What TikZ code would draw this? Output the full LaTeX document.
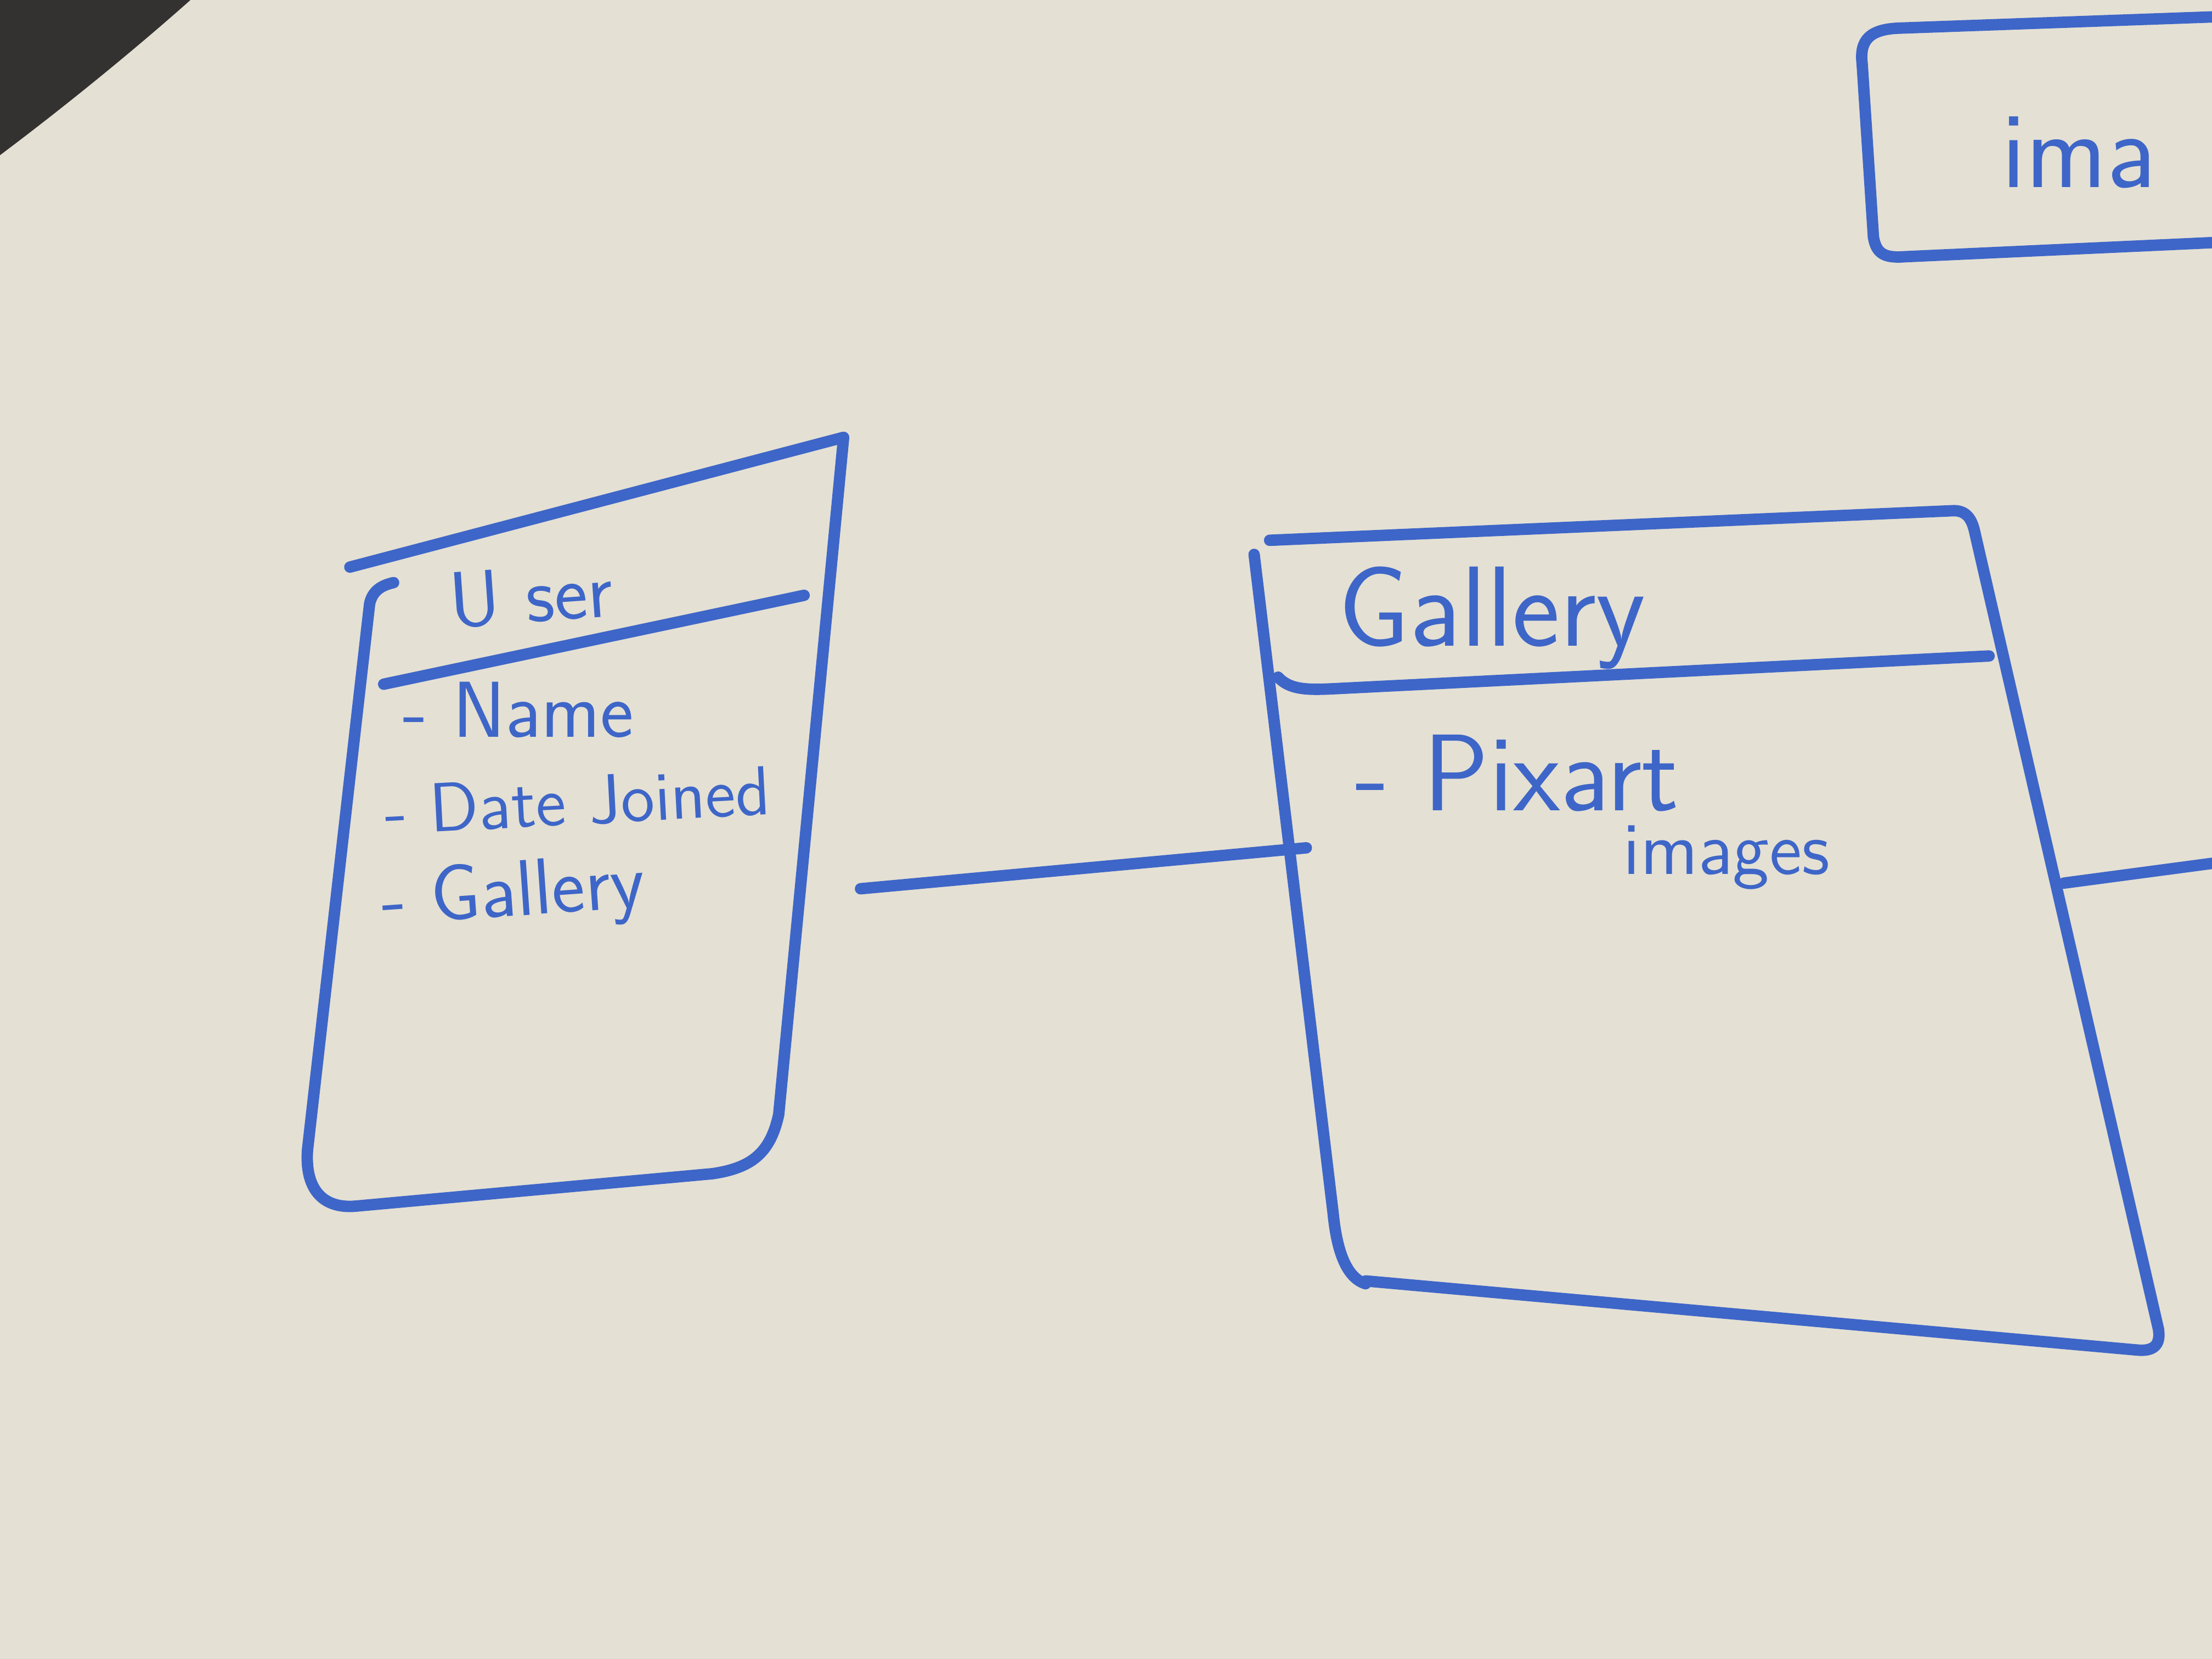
\documentclass[tikz,border=0pt]{standalone}
\usepackage{tikz}

\definecolor{board}{RGB}{228,224,212}
\definecolor{cornerdark}{RGB}{52,50,48}
\definecolor{marker}{RGB}{62,102,200}

\begin{document}
\begin{tikzpicture}[x=0.01cm,y=-0.01cm,
    pen/.style={draw=marker,line width=2.3pt,line cap=round,line join=round},
    word/.style={text=marker,font=\sffamily,inner sep=0pt,anchor=west}]
    \useasboundingbox (0,0) rectangle (1568,1176);
    % board and the dark corner
    \fill [board] (0,0) rectangle (1568,1176);
    \fill [cornerdark] (0,0) -- (135,0) .. controls (90,40) and (40,80) .. (0,110) -- cycle;

    % User box
    \draw [pen] (248,402) -- (598,310) -- (552,790)
        .. controls (546,818) and (532,828) .. (505,832) -- (252,855)
        .. controls (228,857) and (216,842) .. (218,815) -- (262,428)
        .. controls (264,419) and (270,415) .. (279,413);
    \draw [pen] (272,485) -- (570,422);
    \node [word,rotate=4,font=\sffamily\fontsize{16}{18}\selectfont] (user-title) at (318,426) {U ser};
    \node [word,font=\sffamily\fontsize{16}{18}\selectfont] (user-name) at (285,503) {- Name};
    \node [word,rotate=3,font=\sffamily\fontsize{14}{16}\selectfont] (user-date) at (272,575) {- Date Joined};
    \node [word,rotate=4,font=\sffamily\fontsize{16}{18}\selectfont] (user-gal) at (270,642) {- Gallery};

    % Gallery box
    \draw [pen] (900,383) -- (1385,362)
        .. controls (1394,362) and (1398,368) .. (1400,378) -- (1530,942)
        .. controls (1532,954) and (1526,958) .. (1515,957) -- (968,908);
    \draw [pen] (889,393) -- (945,860) .. controls (947,880) and (952,905) .. (968,910);
    \draw [pen] (906,480) .. controls (915,490) and (930,489) .. (950,488) -- (1410,465);
    \node [word,font=\sffamily\fontsize{23}{25}\selectfont] (gal-title) at (948,438) {Gallery};
    \node [word,font=\sffamily\fontsize{22}{24}\selectfont] (gal-pix) at (960,548) {- Pixart};
    \node [word,font=\sffamily\fontsize{15}{17}\selectfont] (gal-img) at (1150,608) {images};

    % images box, cut off at the right
    \draw [pen] (1568,12) -- (1345,20)
        .. controls (1326,21) and (1318,28) .. (1320,45) -- (1328,168)
        .. controls (1330,180) and (1336,183) .. (1350,182) -- (1568,172);
    \node [word,font=\sffamily\fontsize{22}{24}\selectfont] (img-title) at (1418,108) {ima};

    % connectors
    \coordinate (user-r) at (610,630);
    \coordinate (gal-l) at (926,601);
    \coordinate (gal-r) at (1463,626);
    \coordinate (img-link) at (1568,612);
    \draw [pen] (user-r) -- (gal-l);
    \draw [pen] (gal-r) -- (img-link);
\end{tikzpicture}
\end{document}
